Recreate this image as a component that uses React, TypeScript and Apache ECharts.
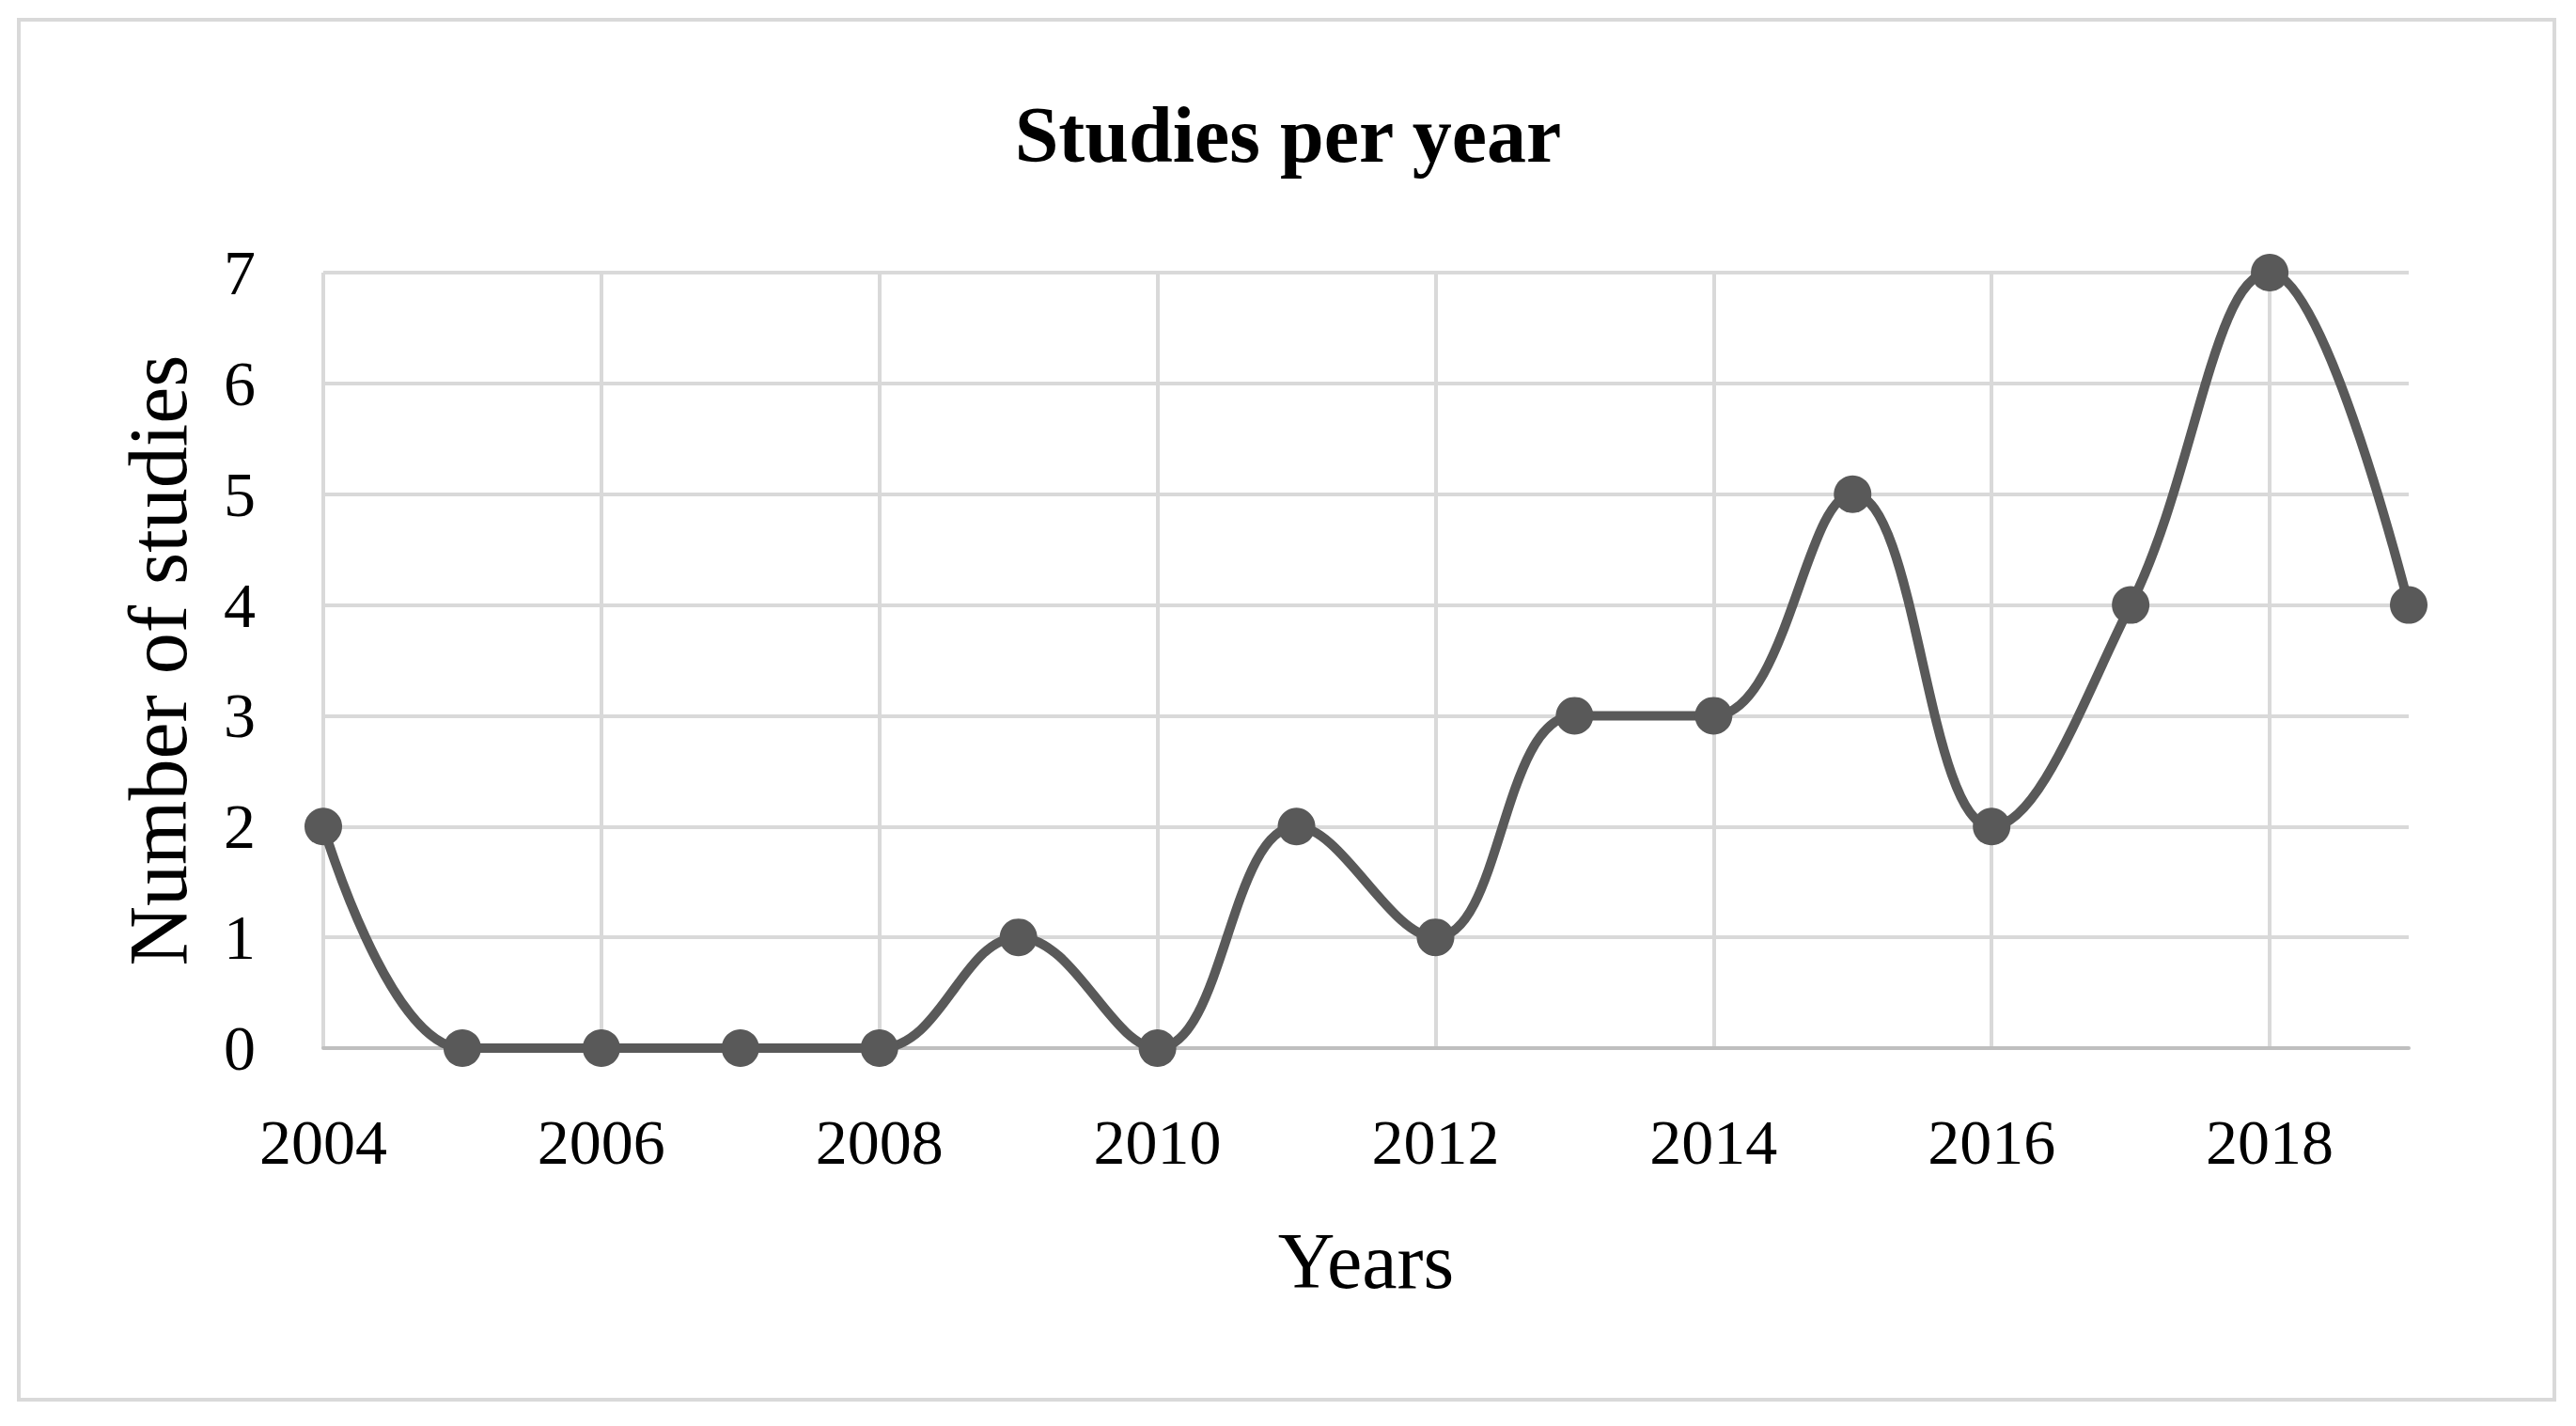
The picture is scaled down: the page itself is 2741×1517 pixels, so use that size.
import React, { useEffect, useRef } from "react";
import * as echarts from "echarts";

const years = ["2004","2005","2006","2007","2008","2009","2010","2011","2012","2013","2014","2015","2016","2017","2018","2019"];
const studies = [2, 0, 0, 0, 0, 1, 0, 2, 1, 3, 3, 5, 2, 4, 7, 4];
const chartTitle = "Studies per year";
const xName = "Years";
const yName = "Number of studies";

const FONT = "'Liberation Serif', 'DejaVu Serif', serif";

export default function App() {
  const ref = useRef<HTMLDivElement>(null);
  useEffect(() => {
    document.body.style.margin = "0";
    const chart = echarts.init(ref.current!, null, { renderer: "svg" });
    chart.setOption({
      animation: false,
      backgroundColor: "#ffffff",
      title: {
        text: chartTitle,
        left: "center",
        top: 96,
        textStyle: { fontFamily: FONT, fontSize: 84, fontWeight: "bold", color: "#000", lineHeight: 84 },
      },
      graphic: [
        {
          type: "rect",
          shape: { x: 20, y: 21, width: 2698, height: 1468 },
          style: { fill: "none", stroke: "#d9d9d9", lineWidth: 4 },
          silent: true,
        },
      ],
      grid: { left: 344, right: 178, top: 290, bottom: 402 },
      xAxis: {
        type: "category",
        data: years,
        boundaryGap: false,
        name: xName,
        nameLocation: "middle",
        nameGap: 184,
        nameTextStyle: { fontFamily: FONT, fontSize: 84, color: "#000", lineHeight: 84 },
        axisLine: { show: true, lineStyle: { color: "#bfbfbf", width: 4 } },
        axisTick: { show: false },
        axisLabel: { interval: 1, margin: 66, fontFamily: FONT, fontSize: 68, color: "#000", lineHeight: 68 },
        splitLine: { show: true, interval: 1, lineStyle: { color: "#d9d9d9", width: 4 } },
      },
      yAxis: {
        type: "value",
        min: 0,
        max: 7,
        interval: 1,
        name: yName,
        nameLocation: "middle",
        nameGap: 132,
        nameTextStyle: { fontFamily: FONT, fontSize: 88, color: "#000", lineHeight: 88 },
        axisLine: { show: false },
        axisTick: { show: false },
        axisLabel: { margin: 72, fontFamily: FONT, fontSize: 68, color: "#000" },
        splitLine: { show: true, lineStyle: { color: "#d9d9d9", width: 4 } },
      },
      series: [
        {
          type: "line",
          data: studies,
          smooth: 0.4,
          symbol: "circle",
          symbolSize: 40,
          itemStyle: { color: "#595959" },
          lineStyle: { color: "#595959", width: 10 },
        },
      ],
    });
    return () => chart.dispose();
  }, []);
  return <div ref={ref} style={{ width: "100vw", height: "100vh" }} />;
}
